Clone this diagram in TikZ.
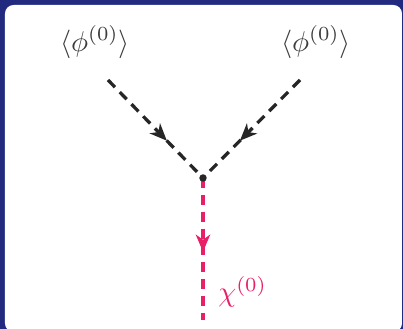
\documentclass[tikz,border=0pt]{standalone}
\usetikzlibrary{arrows.meta, decorations.markings}

\definecolor{frameblue}{RGB}{34,42,128}
\definecolor{chipink}{RGB}{232,32,104}
\definecolor{labelgray}{RGB}{60,60,60}

\begin{document}
\begin{tikzpicture}[x=0.35pt, y=0.35pt, >=Stealth]
    % Style definitions
    \tikzset{field/.style={text=labelgray, inner sep=1pt}}
    \tikzset{prop/.style={dashed, dash pattern=on 3.5pt off 2.4pt, line width=1.15pt,
        postaction={decorate}, decoration={markings,
        mark=at position #1 with {\arrow{Stealth[length=6pt, width=5pt, inset=1.8pt]}}}}}

    % Frame
    \useasboundingbox (0,0) rectangle (403,329);
    \fill [frameblue] (0,0) rectangle (403,329);
    \fill [white, rounded corners=3pt] (5,-3) rectangle (402,324);

    % Nodes
    \node [field] (phiL) at (95,287) {$\langle\phi^{(0)}\rangle$};
    \node [field] (phiR) at (316,287) {$\langle\phi^{(0)}\rangle$};
    \coordinate (inL) at (108,249);
    \coordinate (inR) at (300,249);
    \coordinate (vertex) at (203,151);
    \coordinate (out) at (203,9);
    \node [text=chipink, anchor=west, inner sep=1pt] (chi) at (215,37) {$\chi^{(0)}$};

    % Arrows
    \draw [prop=0.62, black!85] (inL) -- (vertex);
    \draw [prop=0.62, black!85] (inR) -- (vertex);
    \draw [prop=0.52, chipink] (vertex) -- (out);
    \fill [black!85] (vertex) circle (1.3pt);
\end{tikzpicture}
\end{document}
